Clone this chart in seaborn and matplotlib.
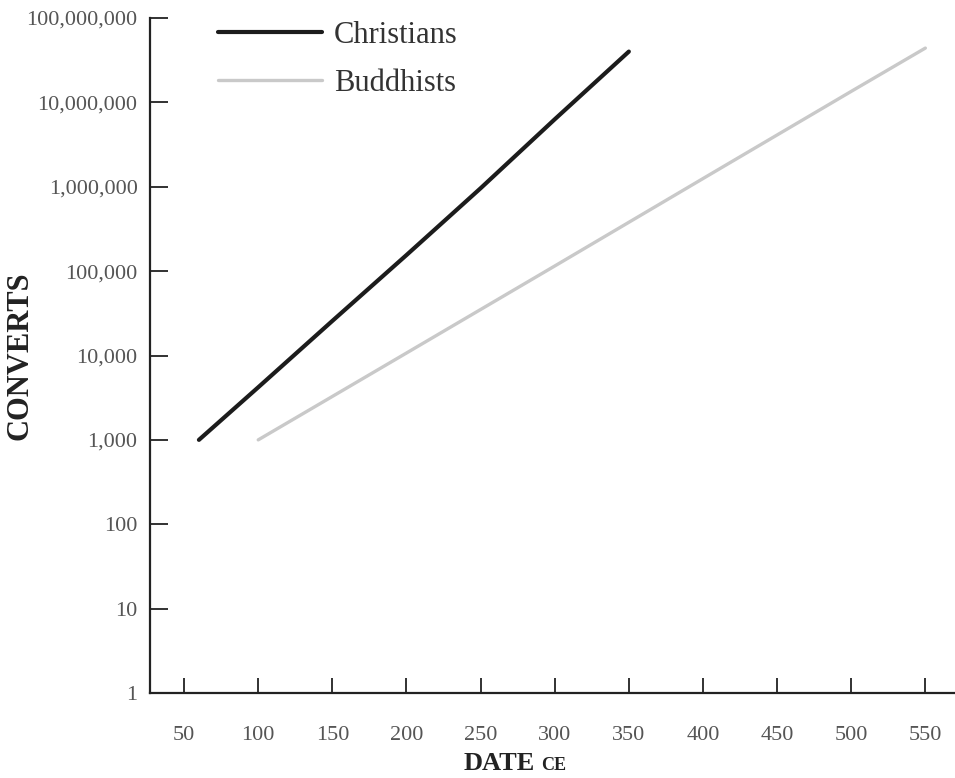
import numpy as np
import matplotlib.pyplot as plt
import pandas as pd
import seaborn as sns

# data
christian_years = [60, 100, 150, 200, 250, 300, 350]
christian_converts = [1000, 4200, 25700, 155000, 960000, 6300000, 40000000]
buddhist_years = [100, 200, 300, 400, 500, 550]
buddhist_converts = [1000, 10700, 115000, 1250000, 13500000, 44000000]
x_ticks = [50, 100, 150, 200, 250, 300, 350, 400, 450, 500, 550]
y_ticks = [1, 10, 100, 1000, 10000, 100000, 1000000, 10000000, 100000000]

df = pd.concat([
    pd.DataFrame({'year': christian_years, 'converts': christian_converts, 'group': 'Christians'}),
    pd.DataFrame({'year': buddhist_years, 'converts': buddhist_converts, 'group': 'Buddhists'}),
])

sns.set_style("ticks")
plt.rcParams['font.family'] = ['Liberation Serif', 'DejaVu Serif']

fig = plt.figure(figsize=(9.55, 7.78), dpi=100)
ax = fig.add_axes([150/955, 85/778, 805/955, 675/778])

sns.lineplot(data=df, x='year', y='converts', hue='group',
             palette={'Christians': '#1c1c1c', 'Buddhists': '#c9c9c9'},
             ax=ax, legend=False)
ax.lines[0].set_linewidth(3.0)
ax.lines[1].set_linewidth(2.4)

ax.set_yscale('log')
ax.set_ylim(1, 1e8)
ax.set_xlim(27, 570)
ax.set_xticks(x_ticks)
ax.set_yticks(y_ticks)
ax.set_yticklabels([f"{v:,}" for v in y_ticks])
ax.minorticks_off()

for s in ['top', 'right']:
    ax.spines[s].set_visible(False)
for s in ['left', 'bottom']:
    ax.spines[s].set_linewidth(1.6)
    ax.spines[s].set_color('#222222')

ax.tick_params(axis='x', direction='in', length=11, width=1.3, pad=24,
               labelsize=16, labelcolor='#555555', color='#222222')
ax.tick_params(axis='y', direction='in', length=13, width=1.3, pad=9,
               labelsize=16, labelcolor='#555555', color='#222222')

ax.set_xlabel('')
ax.set_ylabel('CONVERTS', fontsize=22, fontweight='bold', color='#222222')
ax.yaxis.set_label_coords(-0.143, 0.5)

fig.text(535/955, 1 - 763/778, 'DATE', ha='right', va='center',
         fontsize=19, fontweight='bold', color='#222222')
fig.text(541/955, 1 - 765/778, 'CE', ha='left', va='center',
         fontsize=13, fontweight='bold', color='#222222')

handles = [plt.Line2D([], [], color='#1c1c1c', lw=3.0),
           plt.Line2D([], [], color='#c9c9c9', lw=2.4)]
ax.legend(handles, ['Christians', 'Buddhists'], loc='upper left',
          bbox_to_anchor=(0.084, 0.996), frameon=False, fontsize=22,
          handlelength=3.4, handletextpad=0.4, borderpad=0, borderaxespad=0,
          labelspacing=0.62, labelcolor='#333333')

plt.savefig("out.png", dpi=100)
